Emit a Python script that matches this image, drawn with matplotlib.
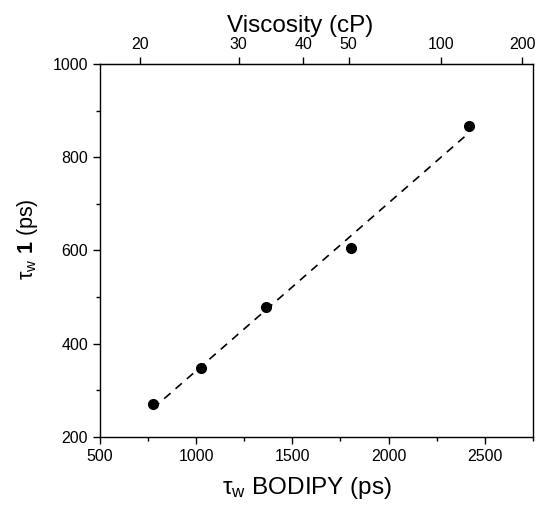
import numpy as np
import matplotlib.pyplot as plt
from matplotlib.ticker import MultipleLocator

plt.rcParams['font.family'] = ['Liberation Sans', 'DejaVu Sans']
plt.rcParams['mathtext.fontset'] = 'custom'
plt.rcParams['mathtext.rm'] = 'Liberation Sans'
plt.rcParams['mathtext.it'] = 'Liberation Sans'
plt.rcParams['mathtext.bf'] = 'Liberation Sans:bold'

# data
tau_bodipy = [775, 1024, 1363, 1803, 2418]
tau_1 = [270, 347, 479, 605, 867]

# viscosity scale on the top axis, placed at tau_w BODIPY values
visc_labels = ['20', '30', '40', '50', '100', '200']
visc_tau = [708, 1220, 1557, 1792, 2271, 2696]

fig = plt.figure(figsize=(5.35, 5.12), dpi=100)
ax = fig.add_axes([0.187, 0.1465, 0.809, 0.7285])

# linear fit
p = np.polyfit(tau_bodipy, tau_1, 1)
xf = np.array([min(tau_bodipy), max(tau_bodipy)])
ax.plot(xf, np.polyval(p, xf), color='black', ls=(0, (5, 4)), lw=1.2)
ax.plot(tau_bodipy, tau_1, 'o', color='black', ms=7)

ax.set_xlim(500, 2750)
ax.set_ylim(200, 1000)
ax.xaxis.set_major_locator(MultipleLocator(500))
ax.xaxis.set_minor_locator(MultipleLocator(250))
ax.yaxis.set_major_locator(MultipleLocator(200))
ax.yaxis.set_minor_locator(MultipleLocator(100))
ax.tick_params(which='both', direction='out', width=1, labelsize=11.5, top=False, right=False)
ax.tick_params(which='major', length=5)
ax.tick_params(which='minor', length=3)
for s in ax.spines.values():
    s.set_linewidth(1)

ax.set_xlabel(r'$\mathregular{\tau_w}$ BODIPY (ps)', fontsize=17.5, labelpad=8, x=0.478)
ax.set_ylabel(r'$\mathregular{\tau_w}$ $\mathbf{1}$ (ps)', fontsize=15.5, labelpad=9, y=0.53)

top = ax.secondary_xaxis('top')
top.set_xticks(visc_tau)
top.set_xticklabels(visc_labels)
top.tick_params(direction='out', length=5, width=1, labelsize=11.5)
top.set_xlabel('Viscosity (cP)', fontsize=17.5, labelpad=4, x=0.462)

fig.savefig('out.png', dpi=100)
